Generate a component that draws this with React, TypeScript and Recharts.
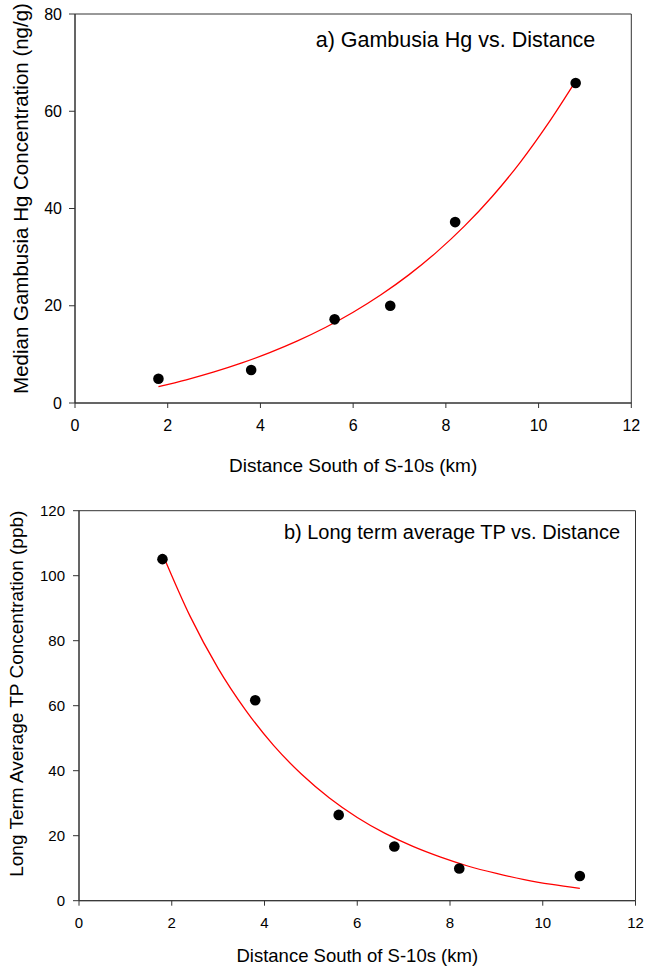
import React from 'react';
import { ComposedChart, XAxis, YAxis, Scatter, Line, ReferenceArea } from 'recharts';

const FONT = '"Liberation Sans", Arial, sans-serif';

const distanceTicks = [0, 2, 4, 6, 8, 10, 12];
const hgTicks = [0, 20, 40, 60, 80];
const tpTicks = [0, 20, 40, 60, 80, 100, 120];

const siteDistance = [1.8, 3.8, 5.6, 6.8, 8.2, 10.8];
const hgValues = [5.0, 6.8, 17.2, 20.0, 37.2, 65.8];
const tpValues = [105.1, 61.7, 26.4, 16.7, 9.9, 7.6];

const fitDistance = [1.8, 2.4, 3.0, 3.6, 4.2, 4.8, 5.4, 6.0, 6.6, 7.2, 7.8, 8.4, 9.0, 9.6, 10.2, 10.8];
const hgFitValues = [3.36, 4.78, 6.4, 8.25, 10.36, 12.77, 15.52, 18.67, 22.26, 26.35, 31.03, 36.37, 42.47, 49.44, 57.39, 66.2];
const tpFitValues = [106.7, 87.4, 71.5, 58.5, 47.7, 38.9, 31.6, 25.6, 20.7, 16.7, 13.4, 10.6, 8.4, 6.5, 5.0, 3.8];

const xTitle = 'Distance South of S-10s (km)';
const hgYTitle = 'Median Gambusia Hg Concentration (ng/g)';
const tpYTitle = 'Long Term Average TP Concentration (ppb)';
const hgTitle = 'a) Gambusia Hg vs. Distance';
const tpTitle = 'b) Long term average TP vs. Distance';

const zip = (xs: number[], ys: number[]) => xs.map((x, i) => ({ x, y: ys[i] }));

const hgPoints = zip(siteDistance, hgValues);
const tpPoints = zip(siteDistance, tpValues);
const hgFit = zip(fitDistance, hgFitValues);
const tpFit = zip(fitDistance, tpFitValues);

const Dot = (p: any) => <circle cx={p.cx} cy={p.cy} r={5.3} fill="#000" />;

const XTitle = ({ viewBox, text, dy, size }: any) => {
  if (!viewBox) return null;
  return (
    <text x={viewBox.x + viewBox.width / 2} y={viewBox.y + dy} textAnchor="middle" fontSize={size} fontFamily={FONT} fill="#000">
      {text}
    </text>
  );
};

const YTitle = ({ viewBox, text, bx, shift, size }: any) => {
  if (!viewBox) return null;
  const cy = viewBox.y + viewBox.height / 2 + shift;
  return (
    <text x={bx} y={cy} transform={`rotate(-90 ${bx} ${cy})`} textAnchor="middle" fontSize={size} fontFamily={FONT} fill="#000">
      {text}
    </text>
  );
};

const PanelTitle = ({ viewBox, text, rightInset, dy, size }: any) => {
  if (!viewBox) return null;
  return (
    <text x={viewBox.x + viewBox.width - rightInset} y={viewBox.y + dy} textAnchor="end" fontSize={size} fontFamily={FONT} fill="#000">
      {text}
    </text>
  );
};

const AXIS = '#333';

export default function App() {
  return (
    <div style={{ position: 'absolute', left: 0, top: 0, width: 646, height: 968, background: '#fff' }}>
      <div style={{ position: 'absolute', left: 0, top: 0 }}>
        <ComposedChart width={646} height={484} margin={{ top: 14, right: 14.7, bottom: 0, left: 0 }}>
          <XAxis
            dataKey="x"
            type="number"
            domain={[0, 12]}
            ticks={distanceTicks}
            allowDataOverflow
            height={81}
            tickSize={5}
            tickMargin={12}
            stroke={AXIS}
            tick={{ fill: '#000', fontSize: 16, fontFamily: FONT }}
            label={<XTitle text={xTitle} dy={68.5} size={19} />}
          />
          <YAxis
            dataKey="y"
            type="number"
            domain={[0, 80]}
            ticks={hgTicks}
            allowDataOverflow
            width={75}
            tickSize={6}
            tickMargin={7}
            stroke={AXIS}
            tick={{ fill: '#000', fontSize: 16, fontFamily: FONT }}
            label={<YTitle text={hgYTitle} bx={28.3} shift={-10} size={20.5} />}
          />
          <ReferenceArea
            x1={0}
            x2={12}
            y1={0}
            y2={80}
            fill="none"
            stroke={AXIS}
            strokeWidth={1}
            label={<PanelTitle text={hgTitle} rightInset={36} dy={32.7} size={21.5} />}
          />
          <Line data={hgFit} dataKey="y" type="monotone" stroke="#ff0000" strokeWidth={1.3} dot={false} activeDot={false} isAnimationActive={false} />
          <Scatter data={hgPoints} dataKey="y" shape={Dot} isAnimationActive={false} />
        </ComposedChart>
      </div>
      <div style={{ position: 'absolute', left: 0, top: 484 }}>
        <ComposedChart width={646} height={484} margin={{ top: 26.7, right: 10.5, bottom: 0, left: 0 }}>
          <XAxis
            dataKey="x"
            type="number"
            domain={[0, 12]}
            ticks={distanceTicks}
            allowDataOverflow
            height={67.3}
            tickSize={5}
            tickMargin={12}
            stroke={AXIS}
            tick={{ fill: '#000', fontSize: 15, fontFamily: FONT }}
            label={<XTitle text={xTitle} dy={61.5} size={18.5} />}
          />
          <YAxis
            dataKey="y"
            type="number"
            domain={[0, 120]}
            ticks={tpTicks}
            allowDataOverflow
            width={79}
            tickSize={6}
            tickMargin={8}
            stroke={AXIS}
            tick={{ fill: '#000', fontSize: 15, fontFamily: FONT }}
            label={<YTitle text={tpYTitle} bx={23} shift={-12} size={19} />}
          />
          <ReferenceArea
            x1={0}
            x2={12}
            y1={0}
            y2={120}
            fill="none"
            stroke={AXIS}
            strokeWidth={1}
            label={<PanelTitle text={tpTitle} rightInset={15.5} dy={28.6} size={20} />}
          />
          <Line data={tpFit} dataKey="y" type="monotone" stroke="#ff0000" strokeWidth={1.3} dot={false} activeDot={false} isAnimationActive={false} />
          <Scatter data={tpPoints} dataKey="y" shape={Dot} isAnimationActive={false} />
        </ComposedChart>
      </div>
    </div>
  );
}
